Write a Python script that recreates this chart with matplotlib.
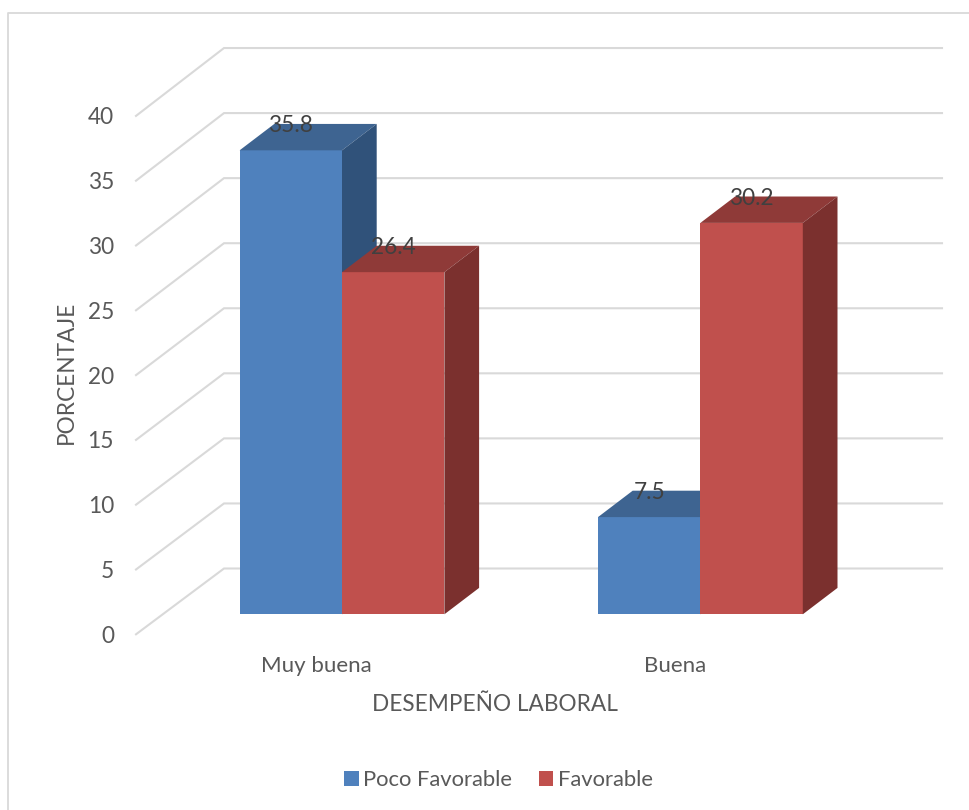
import matplotlib
matplotlib.use("Agg")
import matplotlib.pyplot as plt
from matplotlib.lines import Line2D
from matplotlib.patches import Polygon

plt.rcParams["font.family"] = ["Lato", "DejaVu Sans"]

categories = ["Muy buena", "Buena"]
series_names = ["Poco Favorable", "Favorable"]
poco_favorable = [35.8, 7.5]
favorable = [26.4, 30.2]
y_ticks = [0, 5, 10, 15, 20, 25, 30, 35, 40]

WIDTH, HEIGHT = 969, 810
BAR_PX = 102.4  # one bar width in pixels, also the x unit
UNIT_PX = 12.96  # pixels per percent
ORIGIN_X, ORIGIN_Y = 342, 614.3  # first group centre, front base of the bars
WALL_SCALE = 1.004  # back wall runs slightly taller than the bars

# oblique depth of a bar, in data units
DEPTH_X = 34.7 / BAR_PX
DEPTH_Y = 26.4 / UNIT_PX

BLUE = ("#4F81BD", "#3E6491", "#30527A")
RED = ("#C0504D", "#8F3A38", "#7B302E")
GRID = "#D9D9D9"
TEXT = "#595959"
FONT = 16.3


def px_x(px):
    return (px - ORIGIN_X) / BAR_PX


def px_y(px):
    return (ORIGIN_Y - px) / UNIT_PX


def draw_bar(ax, x, value, colors, label=None):
    """Front face plus the top and side faces of one bar"""
    front, top, side = colors
    ax.bar(x, value, width=1, color=front, zorder=3, label=label)
    left, right = x - 0.5, x + 0.5
    ax.add_patch(Polygon(
        [(left, value), (right, value),
         (right + DEPTH_X, value + DEPTH_Y), (left + DEPTH_X, value + DEPTH_Y)],
        facecolor=top, edgecolor="none", zorder=3))
    ax.add_patch(Polygon(
        [(right, 0), (right + DEPTH_X, DEPTH_Y),
         (right + DEPTH_X, value + DEPTH_Y), (right, value)],
        facecolor=side, edgecolor="none", zorder=3))
    ax.annotate(f"{value}", (x, value), xytext=(0, 24.5 * 72 / 100),
                textcoords="offset points", ha="center", va="center",
                fontsize=FONT, color="#404040", zorder=6)


fig = plt.figure(figsize=(WIDTH / 100, HEIGHT / 100), dpi=100, facecolor="white")
ax = fig.add_axes([0, 0, 1, 1])
ax.set_xlim(px_x(0), px_x(WIDTH))
ax.set_ylim(px_y(HEIGHT), px_y(0))
ax.axis("off")

# chart frame, only the left and top edges show
fig.add_artist(Line2D([8 / WIDTH, 8 / WIDTH, 1], [0, 1 - 13 / HEIGHT, 1 - 13 / HEIGHT],
                      color=GRID, lw=1.3))

# back wall gridlines and their diagonals on the side wall
wall_left, wall_right, wall_front = px_x(224), px_x(942), px_x(136)
back_rise = 45.8 / UNIT_PX
front_drop = 20 / UNIT_PX
for tick in y_ticks:
    back_y = tick * WALL_SCALE + back_rise
    ax.plot([wall_front, wall_left, wall_right],
            [tick - front_drop, back_y, back_y],
            color=GRID, lw=1.5, zorder=1, solid_joinstyle="miter")
    ax.text(px_x(114), tick - front_drop - 0.15, str(tick), ha="right", va="center",
            fontsize=FONT, color=TEXT)

# the two groups sit 3.5 bar widths apart
group_x = [0, 3.5]
for i, x in enumerate(group_x):
    draw_bar(ax, x - 0.5, poco_favorable[i], BLUE, series_names[0] if i == 0 else None)
    draw_bar(ax, x + 0.5, favorable[i], RED, series_names[1] if i == 0 else None)
    ax.text(x - 0.25, px_y(665.5), categories[i], ha="center", va="center",
            fontsize=FONT - 0.3, color=TEXT)

ax.text(px_x(495), px_y(704.5), "DESEMPEÑO LABORAL", ha="center", va="center",
        fontsize=FONT, color=TEXT)
ax.text(px_x(66), px_y(372.5), "PORCENTAJE", ha="center", va="center", rotation=90,
        fontsize=FONT, color=TEXT)

leg = ax.legend(loc="center", bbox_to_anchor=(498.5 / WIDTH, 1 - 780 / HEIGHT), ncol=2,
                frameon=False, fontsize=FONT - 0.5, handlelength=0.66, handleheight=0.66,
                handletextpad=0.21, columnspacing=1.22, labelcolor=TEXT)

fig.savefig("out.png", dpi=100)
